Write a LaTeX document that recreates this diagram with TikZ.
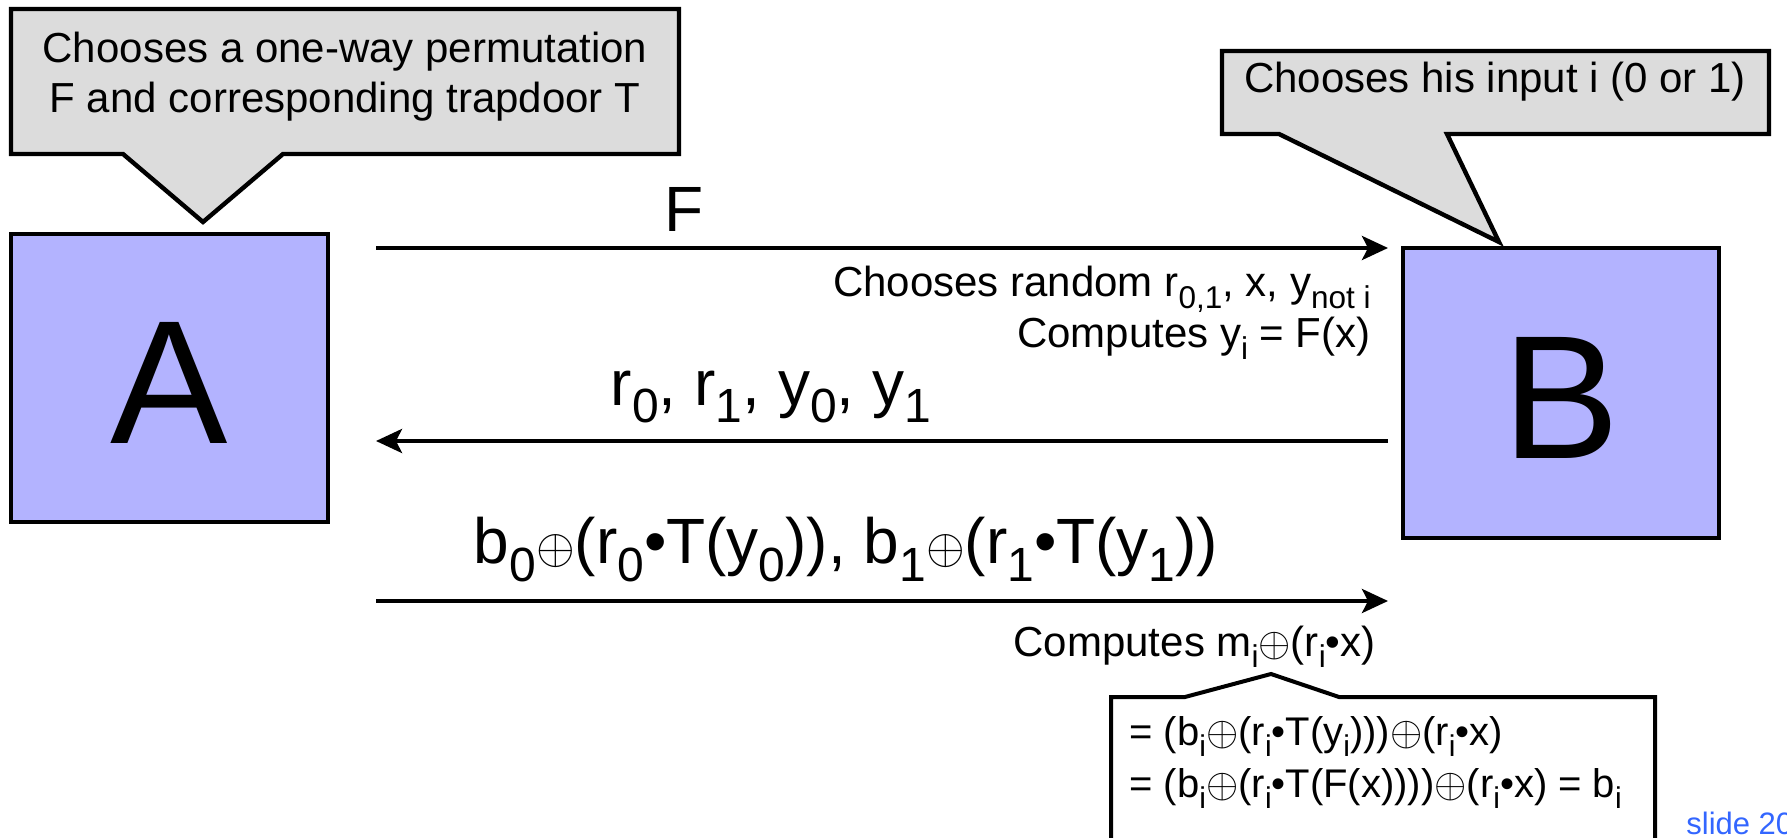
\documentclass[tikz,border=0pt]{standalone}
\usepackage{fontspec}
\setmainfont{Liberation Sans}
\usepackage{xcolor}
\usepackage{amsmath}
\usepackage{graphicx}
\usepackage{tikz}
\usetikzlibrary{arrows.meta}

\definecolor{partyfill}{RGB}{179,179,255}
\definecolor{callfill}{RGB}{220,220,220}
\definecolor{slideblue}{RGB}{51,102,255}
\newcommand{\sbs}[1]{\raisebox{-0.28em}{\scalebox{0.75}{#1}}}
\newcommand{\xo}{\ensuremath{\oplus}}

\begin{document}
\begin{tikzpicture}[x=0.5pt,y=0.5pt,yscale=-1,
  party/.style={draw,line width=2.2pt,fill=partyfill},
  callout/.style={draw,line width=2.2pt,line join=miter,fill=callfill},
  msg/.style={line width=2pt,-{Stealth[length=13pt,width=12pt,inset=3pt]}},
  small/.style={font=\fontsize{21}{25}\selectfont},
  big/.style={font=\fontsize{32}{36}\selectfont},
  every node/.style={inner sep=0pt}]
\useasboundingbox (0,0) rectangle (1787,838);

%Shape: Rectangle A
\draw [party] (11,234) rectangle (328,522);
\node (A) at (169,383) {\fontsize{88}{90}\selectfont A};
%Shape: Rectangle B
\draw [party] (1403,248) rectangle (1719,538);
\node (B) at (1561,398) {\fontsize{88}{90}\selectfont B};

%Shape: Callout A
\draw [callout] (11,9) -- (679,9) -- (679,154) -- (283,154) -- (203,222) -- (123,154) -- (11,154) -- cycle ;
%Shape: Callout B
\draw [callout] (1222,51) -- (1769,51) -- (1769,134) -- (1447,134) -- (1499,242) -- (1279,134) -- (1222,134) -- cycle ;
%Shape: Callout result
\draw [line width=2pt,fill=white] (1111,860) -- (1111,697) -- (1185,697) -- (1271,674) -- (1339,697) -- (1655,697) -- (1655,860) ;

% Text Node
\node (callA) [align=center,font=\fontsize{21}{25}\selectfont] at (345,77) {Chooses a one-way permutation\\F and corresponding trapdoor T};
% Text Node
\node (callB) [small] at (1495,82) {Chooses his input i (0 or 1)};

%Straight Lines
\coordinate (f1) at (376,248);
\coordinate (f2) at (1388,248);
\draw [msg] (f1) -- (f2);
\node (fLab) [big] at (684,209) {F};
\node (bStep1) [small,anchor=base east] at (1371,297) {Chooses random r\sbs{0,1}, x, y\sbs{not i}};
\node (bStep2) [small,anchor=base east] at (1371,348) {Computes y\sbs{i} = F(x)};

%Straight Lines
\coordinate (r1) at (1388,441);
\coordinate (r2) at (376,441);
\draw [msg] (r1) -- (r2);
\node (rLab) [big] at (771,397) {r\sbs{0}, r\sbs{1}, y\sbs{0}, y\sbs{1}};

%Straight Lines
\coordinate (b1) at (376,601);
\coordinate (b2) at (1388,601);
\draw [msg] (b1) -- (b2);
\node (bLab) [big] at (846,550) {b\sbs{0}\xo(r\sbs{0}\textbullet T(y\sbs{0})), b\sbs{1}\xo(r\sbs{1}\textbullet T(y\sbs{1}))};
\node (mLab) [small,anchor=base east] at (1376,656) {Computes m\sbs{i}\xo(r\sbs{i}\textbullet x)};

% Text Node
\node (eq1) [anchor=base west,font=\fontsize{20}{23}\selectfont] at (1129,745) {= (b\sbs{i}\xo(r\sbs{i}\textbullet T(y\sbs{i})))\xo(r\sbs{i}\textbullet x)};
\node (eq2) [anchor=base west,font=\fontsize{20}{23}\selectfont] at (1129,797) {= (b\sbs{i}\xo(r\sbs{i}\textbullet T(F(x))))\xo(r\sbs{i}\textbullet x) = b\sbs{i}};
% Text Node
\node (slide) [anchor=base west,font=\fontsize{15.5}{18}\selectfont,text=slideblue] at (1686,834) {slide 20};
\end{tikzpicture}
\end{document}
